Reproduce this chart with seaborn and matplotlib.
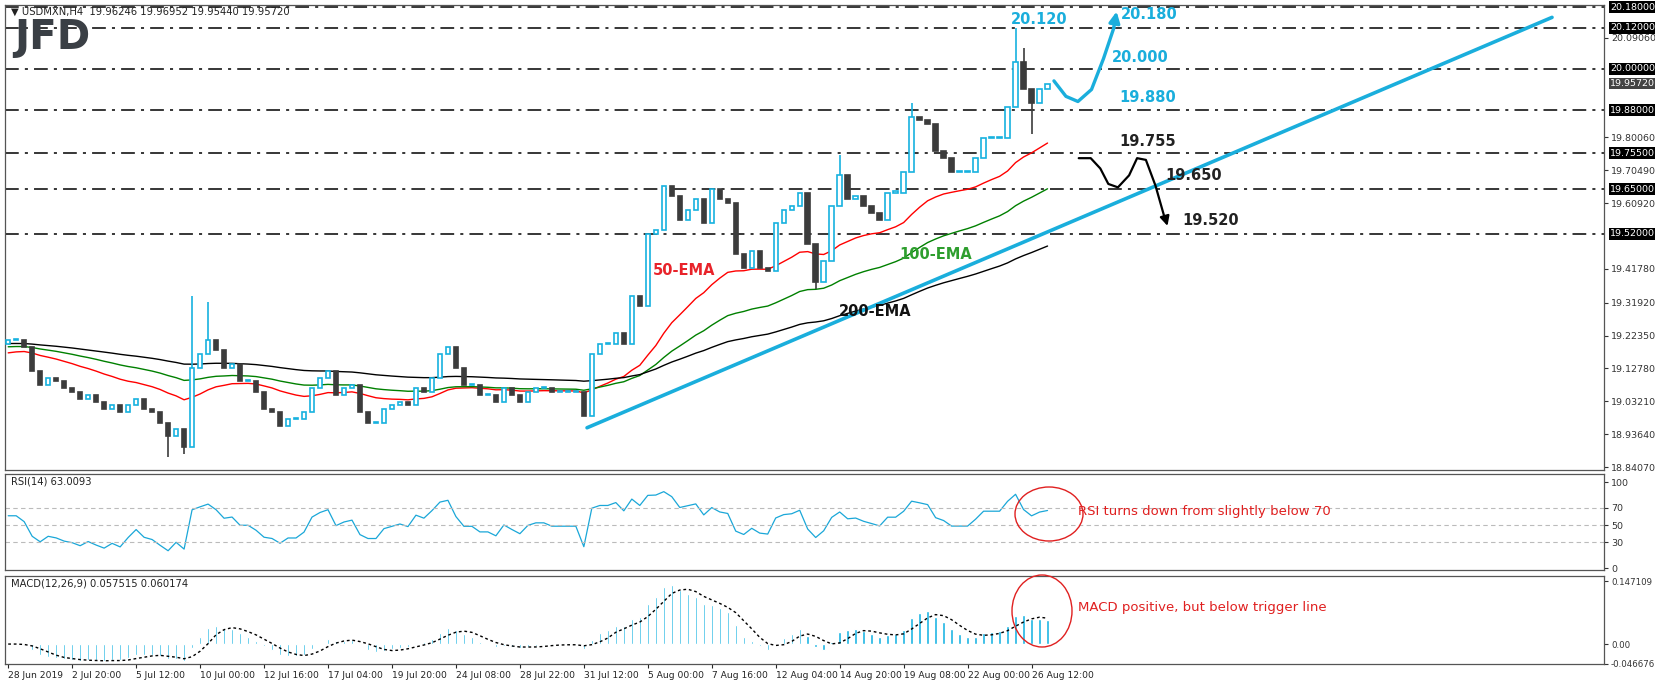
import numpy as np
import pandas as pd
import matplotlib
matplotlib.use("Agg")
import matplotlib.pyplot as plt
from matplotlib.patches import Ellipse
import seaborn as sns

# --- data (USDMXN H4, one value per two H4 bars) ---
closes = [
    19.21, 19.21, 19.19, 19.12, 19.08, 19.10, 19.09, 19.07, 19.06, 19.04,
    19.05, 19.03, 19.01, 19.02, 19.00, 19.02, 19.04, 19.01, 19.00, 18.97,
    18.93, 18.95, 18.90, 19.13, 19.17, 19.21, 19.18, 19.13, 19.14, 19.09,
    19.09, 19.06, 19.01, 19.00, 18.96, 18.98, 18.98, 19.00, 19.07, 19.10,
    19.12, 19.05, 19.07, 19.08, 19.00, 18.97, 18.97, 19.01, 19.02, 19.03,
    19.02, 19.07, 19.06, 19.10, 19.17, 19.19, 19.13, 19.08, 19.08, 19.05,
    19.05, 19.03, 19.07, 19.05, 19.03, 19.06, 19.07, 19.07, 19.06, 19.06,
    19.06, 19.06, 18.99, 19.17, 19.20, 19.20, 19.23, 19.20, 19.34, 19.31,
    19.52, 19.53, 19.66, 19.63, 19.56, 19.59, 19.62, 19.55, 19.65, 19.62,
    19.61, 19.46, 19.42, 19.47, 19.42, 19.41, 19.55, 19.59, 19.60, 19.64,
    19.49, 19.38, 19.44, 19.60, 19.69, 19.62, 19.63, 19.60, 19.58, 19.56,
    19.64, 19.64, 19.70, 19.86, 19.85, 19.84, 19.76, 19.74, 19.70, 19.70,
    19.70, 19.74, 19.80, 19.80, 19.80, 19.89, 20.02, 19.94, 19.90, 19.94,
    19.957,
]
first_open = 19.20
wick_highs = {23: 19.34, 25: 19.32, 104: 19.75, 113: 19.90, 126: 20.12, 127: 20.06}
wick_lows = {20: 18.87, 22: 18.88, 101: 19.36, 128: 19.81}

ema_periods = [25, 50, 100]           # 50/100/200 EMA on H4 = 25/50/100 on 2-bar steps
ema_start = [19.17, 19.19, 19.20]
ema_names = ["50-EMA", "100-EMA", "200-EMA"]
rsi_seed = (0.020, 0.014)             # starting average gain / loss

level_values = [20.18, 20.12, 20.00, 19.88, 19.755, 19.65, 19.52]
level_labels = ["20.18000", "20.12000", "20.00000", "19.88000", "19.75500", "19.65000", "19.52000"]
price_ticks = [20.0906, 19.8006, 19.7049, 19.6092, 19.4178, 19.3192, 19.2235,
               19.1278, 19.0321, 18.9364, 18.8407]
date_labels = ["28 Jun 2019", "2 Jul 20:00", "5 Jul 12:00", "10 Jul 00:00", "12 Jul 16:00",
               "17 Jul 04:00", "19 Jul 20:00", "24 Jul 08:00", "28 Jul 22:00", "31 Jul 12:00",
               "5 Aug 00:00", "7 Aug 16:00", "12 Aug 04:00", "14 Aug 20:00", "19 Aug 08:00",
               "22 Aug 00:00", "26 Aug 12:00"]

# --- indicators ---
df = pd.DataFrame({"x": np.arange(len(closes)), "close": closes})
for p, s, name in zip(ema_periods, ema_start, ema_names):
    a = 2.0 / (p + 1)
    e, vals = s, []
    for c in closes:
        e = e + a * (c - e)
        vals.append(e)
    df[name] = vals

g, l = rsi_seed
rsi, prev = [], first_open
for c in closes:
    d = c - prev
    g = g + (max(d, 0) - g) / 7
    l = l + (max(-d, 0) - l) / 7
    rsi.append(100 - 100 / (1 + g / l))
    prev = c
df["rsi"] = rsi
df["macd"] = (df["close"].ewm(span=6, adjust=False).mean()
              - df["close"].ewm(span=13, adjust=False).mean())
df["signal"] = df["macd"].rolling(4, min_periods=1).mean()

# --- figure ---
sns.set_style("white")
plt.rcParams["font.family"] = ["DejaVu Sans"]
W, H = 1655, 682
fig = plt.figure(figsize=(W / 100, H / 100), dpi=100)

def axes_px(top, bottom):
    return fig.add_axes([5 / W, 1 - bottom / H, (1604 - 5) / W, (bottom - top) / H])

ax = axes_px(5, 470)
ax_rsi = axes_px(474, 570)
ax_macd = axes_px(576, 664)
BULL, BEAR = "#17B1DF", "#3C3C3C"
xlim = (-0.4, 199.6)

for a in (ax, ax_rsi, ax_macd):
    a.set_xlim(*xlim)
    for sp in a.spines.values():
        sp.set_color("#555555")
        sp.set_linewidth(0.9)
    a.yaxis.tick_right()
    a.tick_params(axis="y", labelsize=6.8, length=3, pad=2, colors="#333333", right=True)
    a.set_xticks([])

# candles
opens = [first_open] + closes[:-1]
for i, (o, c) in enumerate(zip(opens, closes)):
    bull = c >= o
    col = BULL if bull else BEAR
    hi = wick_highs.get(i, max(o, c))
    lo = wick_lows.get(i, min(o, c))
    ax.vlines(i, lo, hi, color=col, lw=1.2, zorder=3)
    h = max(abs(c - o), 0.003)
    ax.bar(i, h, bottom=min(o, c), width=0.55, facecolor="white" if bull else BEAR,
           edgecolor=col, linewidth=1.2, zorder=4)

for name, col in zip(ema_names, ["#FF0000", "#008000", "#000000"]):
    sns.lineplot(data=df, x="x", y=name, ax=ax, color=col, lw=1.0, zorder=2)

for v in level_values:
    ax.axhline(v, color="black", lw=1.1, dashes=(9, 4, 2, 4), zorder=1)

ax.set_ylim(18.832, 20.186)
ax.set_yticks(price_ticks)
ax.set_yticklabels([f"{t:.5f}" for t in price_ticks])
ax.set_xlabel("")
ax.set_ylabel("")
for v, lab in zip(level_values, level_labels):
    ax.text(1.004, v, lab, transform=ax.get_yaxis_transform(), fontsize=6.8, color="white",
            va="center", ha="left",
            bbox=dict(facecolor="black", edgecolor="none", pad=1.0))
ax.text(1.004, 19.9572, "19.95720", transform=ax.get_yaxis_transform(), fontsize=6.8,
        color="white", va="center", ha="left",
        bbox=dict(facecolor="#444444", edgecolor="none", pad=1.0))

# trend line and scenario arrows
ax.plot([72.4, 193.1], [18.955, 20.15], color="#1AAEDC", lw=2.6, zorder=5)
ax.plot([130.8, 132.3, 133.8, 135.5, 137.0, 138.3], [19.965, 19.92, 19.905, 19.94, 20.03, 20.12],
        color="#1AAEDC", lw=2.4, zorder=6)
ax.annotate("", xy=(138.7, 20.175), xytext=(138.2, 20.11),
            arrowprops=dict(arrowstyle="-|>", color="#1AAEDC", lw=2.4, mutation_scale=16))
ax.plot([133.9, 135.4, 136.6, 137.6, 138.8, 140.2, 141.2, 142.3, 143.5, 144.6],
        [19.74, 19.74, 19.71, 19.665, 19.655, 19.69, 19.74, 19.735, 19.66, 19.57],
        color="black", lw=1.6, zorder=6)
ax.annotate("", xy=(145.1, 19.535), xytext=(144.6, 19.575),
            arrowprops=dict(arrowstyle="-|>", color="black", lw=1.6, mutation_scale=14))

lab_kw = dict(fontsize=10.5, fontweight="bold", zorder=7)
ax.text(125.4, 20.13, "20.120", color="#1AAEDC", **lab_kw)
ax.text(139.2, 20.145, "20.180", color="#1AAEDC", **lab_kw)
ax.text(138.0, 20.02, "20.000", color="#1AAEDC", **lab_kw)
ax.text(139.0, 19.905, "19.880", color="#1AAEDC", **lab_kw)
ax.text(139.0, 19.775, "19.755", color="#222222", **lab_kw)
ax.text(144.7, 19.675, "19.650", color="#222222", **lab_kw)
ax.text(146.8, 19.545, "19.520", color="#222222", **lab_kw)
ax.text(84.5, 19.40, "50-EMA", color="#E8232A", ha="center", **lab_kw)
ax.text(116.0, 19.445, "100-EMA", color="#2E9E2E", ha="center", **lab_kw)
ax.text(108.5, 19.28, "200-EMA", color="#111111", ha="center", **lab_kw)

ax.text(0.004, 0.997, "\u25bc USDMXN,H4  19.96246 19.96952 19.95440 19.95720",
        transform=ax.transAxes, fontsize=7.2, va="top", color="#222222")
ax.text(0.006, 0.972, "JFD", transform=ax.transAxes, fontsize=29, fontweight="bold",
        va="top", color="#3A3F45")

# RSI
sns.lineplot(data=df, x="x", y="rsi", ax=ax_rsi, color="#1AA7D8", lw=0.9)
for v in (70, 50, 30):
    ax_rsi.axhline(v, color="#BBBBBB", lw=0.8, ls=(0, (4, 3)))
ax_rsi.set_ylim(-2.3, 109.3)
ax_rsi.set_yticks([100, 70, 50, 30, 0])
ax_rsi.set_xlabel("")
ax_rsi.set_ylabel("")
ax_rsi.set_xticks([])
ax_rsi.text(0.004, 0.97, "RSI(14) 63.0093", transform=ax_rsi.transAxes, fontsize=7.2,
            va="top", color="#222222")

# MACD
ax_macd.bar(df["x"], df["macd"], width=0.3, color="#19B4E3", zorder=2)
sns.lineplot(data=df, x="x", y="signal", ax=ax_macd, color="black", lw=1.0,
             ls=(0, (2, 2)), zorder=3)
ax_macd.set_ylim(-0.0467, 0.1594)
ax_macd.set_yticks([0.147109, 0.0, -0.046676])
ax_macd.set_yticklabels(["0.147109", "0.00", "-0.046676"])
ax_macd.tick_params(axis="y", labelsize=6.2)
ax_macd.set_ylabel("")
ax_macd.text(0.004, 0.97, "MACD(12,26,9) 0.057515 0.060174", transform=ax_macd.transAxes,
             fontsize=7.2, va="top", color="#222222")
ax_macd.set_xticks([8 * i for i in range(len(date_labels))])
ax_macd.set_xticklabels(date_labels, fontsize=6.6, ha="left", color="#222222")
ax_macd.tick_params(axis="x", bottom=True, length=3, pad=2)
ax_macd.set_xlabel("")

# red call-out circles and comments
fig.add_artist(Ellipse((1049 / W, 1 - 514 / H), 68 / W, 54 / H, transform=fig.transFigure,
                       fill=False, edgecolor="#E02020", lw=1.0))
fig.add_artist(Ellipse((1042 / W, 1 - 611 / H), 60 / W, 72 / H, transform=fig.transFigure,
                       fill=False, edgecolor="#E02020", lw=1.0))
fig.text(1078 / W, 1 - 512 / H, "RSI turns down from slightly below 70", color="#E02020",
         fontsize=9.5, va="center")
fig.text(1078 / W, 1 - 607 / H, "MACD positive, but below trigger line", color="#E02020",
         fontsize=9.5, va="center")

fig.savefig("out.png", dpi=100)
